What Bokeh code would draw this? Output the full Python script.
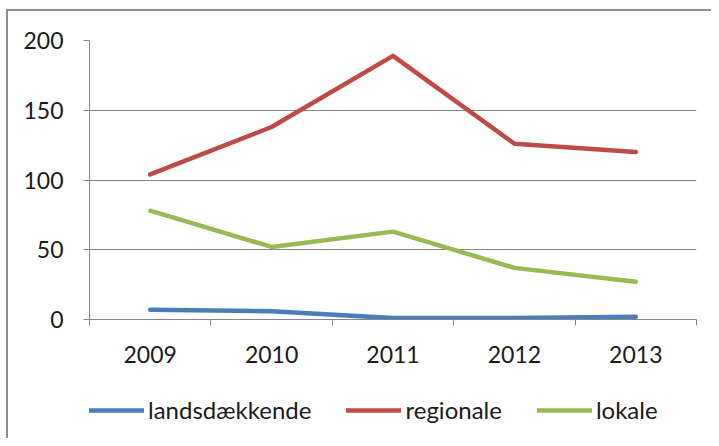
from bokeh.plotting import figure
from bokeh.layouts import column
from bokeh.models import Range1d, FixedTicker, Legend, LegendItem
from bokeh.embed import file_html
from bokeh.resources import INLINE

years = ["2009", "2010", "2011", "2012", "2013"]
landsdaekkende = [7, 6, 1, 1, 2]
regionale = [104, 138, 189, 126, 120]
lokale = [78, 52, 63, 37, 27]
y_ticks = [0, 50, 100, 150, 200]

series_names = ["landsdækkende", "regionale", "lokale"]
series_values = [landsdaekkende, regionale, lokale]
series_colors = ["#4A7EBB", "#BE4B48", "#98B954"]

FONT = "Lato"
FS = "23px"
GRID = "#868686"
TXT = "#1a1a1a"

xs = [i + 0.5 for i in range(len(years))]

p = figure(width=711, height=380, output_backend="svg", toolbar_location=None,
           x_range=Range1d(0, len(years)), y_range=Range1d(0, 200),
           min_border_left=89, min_border_top=40, min_border_right=15,
           min_border_bottom=61)
p.outline_line_color = None
p.background_fill_color = "white"
p.border_fill_color = None

p.xgrid.grid_line_color = None
p.ygrid.grid_line_color = GRID
p.ygrid.grid_line_width = 1
p.ygrid.ticker = FixedTicker(ticks=y_ticks)

p.yaxis.ticker = FixedTicker(ticks=y_ticks)
p.yaxis.axis_line_color = GRID
p.yaxis.major_tick_line_color = GRID
p.yaxis.major_tick_out = 6
p.yaxis.major_tick_in = 0
p.yaxis.minor_tick_line_color = None
p.yaxis.major_label_text_font = FONT
p.yaxis.major_label_text_font_size = FS
p.yaxis.major_label_text_color = TXT
p.yaxis.major_label_standoff = 20

p.xaxis.ticker = FixedTicker(ticks=xs, minor_ticks=list(range(len(years) + 1)))
p.xaxis.major_label_overrides = {x: y for x, y in zip(xs, years)}
p.xaxis.axis_line_color = GRID
p.xaxis.major_tick_line_color = None
p.xaxis.major_tick_out = 0
p.xaxis.major_tick_in = 0
p.xaxis.minor_tick_line_color = GRID
p.xaxis.minor_tick_out = 6
p.xaxis.minor_tick_in = 0
p.xaxis.major_label_text_font = FONT
p.xaxis.major_label_text_font_size = FS
p.xaxis.major_label_text_color = TXT
p.xaxis.major_label_standoff = 20

for name, vals, col in zip(series_names, series_values, series_colors):
    p.line(xs, vals, line_color=col, line_width=4.5, line_join="round", line_cap="round")

# legend strip below the chart (its ranges keep the key lines themselves out of view)
lg = figure(width=711, height=58, output_backend="svg", toolbar_location=None,
            x_range=Range1d(-20, -19), y_range=Range1d(-2000, -1999),
            x_axis_type=None, y_axis_type=None,
            min_border_left=0, min_border_right=0, min_border_top=0, min_border_bottom=0)
lg.outline_line_color = None
lg.background_fill_color = None
lg.border_fill_color = None
lg.grid.visible = False

items = []
for name, vals, col in zip(series_names, series_values, series_colors):
    r = lg.line(xs, vals, line_color=col, line_width=4.5, line_cap="round")
    items.append(LegendItem(label=name, renderers=[r]))

legend = Legend(items=items, orientation="horizontal", location=(0, 14),
                border_line_color=None, background_fill_alpha=0,
                padding=0, margin=0, spacing=35, glyph_width=55, glyph_height=20,
                label_standoff=4, label_text_font=FONT, label_text_font_size="24px",
                label_text_color=TXT)
lg.add_layout(legend)

layout = column(p, lg, spacing=0,
                styles={"box-shadow": "inset 6px 9px 0 0 white, inset 8px 11px 0 0 #8e8e8e"})

open("out.html", "w").write(file_html(layout, INLINE))
